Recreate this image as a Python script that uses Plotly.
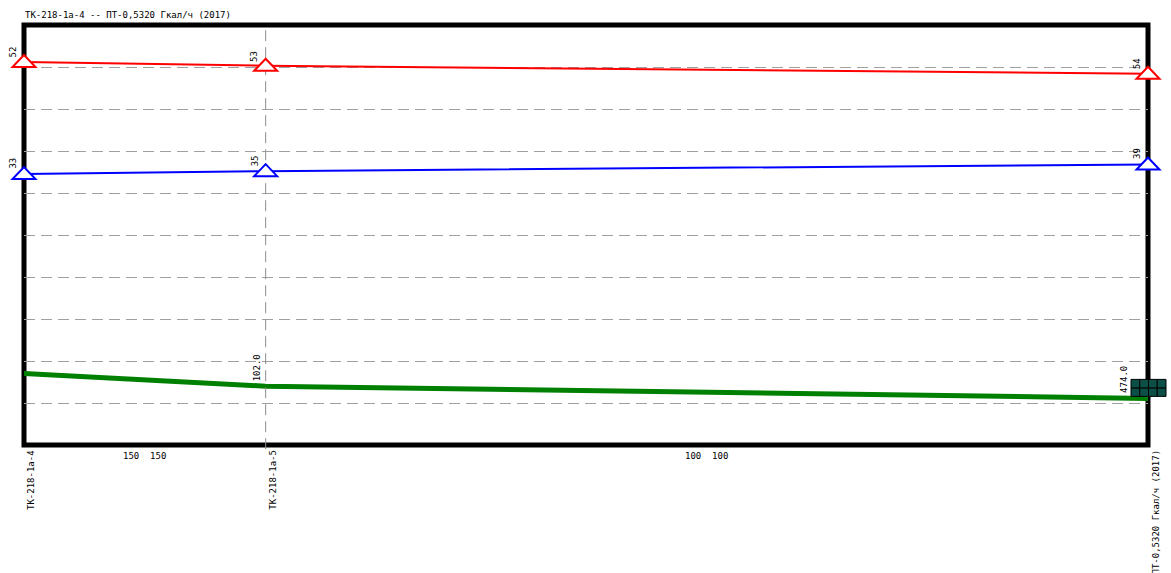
import plotly.graph_objects as go

# Profile along the route: node names and cumulative distance of each node
node_names = ["ТК-218-1а-4", "ТК-218-1а-5", "ПТ-0,5320 Гкал/ч (2017)"]
node_dist = [0, 43, 200]

# Segment labels (supply / return pipe diameters)
segment_labels = ["150  150", "100  100"]

# Supply head, return head and ground profile at each node
supply_head = [9.12, 9.03, 8.84]
return_head = [6.45, 6.52, 6.68]
ground = [1.70, 1.40, 1.11]

supply_tags = ["52", "53", "54"]
return_tags = ["33", "35", "39"]
ground_tags = ["", "102.0", "474.0"]

title_text = "ТК-218-1а-4 -- ПТ-0,5320 Гкал/ч (2017)"

FONT = dict(family="DejaVu Sans Mono", size=9, color="black")

fig = go.Figure()

fig.add_trace(go.Scatter(
    x=node_dist, y=ground, mode="lines",
    line=dict(color="#008000", width=5), cliponaxis=False, hoverinfo="skip"))

for vals, col in ((supply_head, "#ff0000"), (return_head, "#0000ff")):
    fig.add_trace(go.Scatter(
        x=node_dist, y=vals, mode="lines",
        line=dict(color=col, width=2), cliponaxis=False, hoverinfo="skip"))

x_span = node_dist[-1] - node_dist[0]


def paper_x(xv):
    return (xv - node_dist[0]) / x_span


shapes = [
    # Heavy frame around the plotting area (gridlines are drawn over it)
    dict(type="rect", xref="paper", yref="paper", x0=0, x1=1, y0=0, y1=1,
         line=dict(color="black", width=5), layer="below"),
    # Vertical marker line at the intermediate node
    dict(type="line", xref="x", yref="paper", x0=node_dist[1], x1=node_dist[1],
         y0=-0.01, y1=1, line=dict(color="#8c8c8c", width=1, dash="11px,6px")),
]

# Wide open triangles marking the heads at every node
for vals, col in ((supply_head, "#ff0000"), (return_head, "#0000ff")):
    for xv, yv in zip(node_dist, vals):
        shapes.append(dict(
            type="path", xref="paper", yref="y",
            xsizemode="pixel", ysizemode="pixel",
            xanchor=paper_x(xv), yanchor=yv,
            path="M0,7 L11.5,-5 L-11.5,-5 Z",
            fillcolor="white", line=dict(color=col, width=2), layer="above"))

# Heat source symbol at the end node: 4x2 grid of cells
cell_w, cell_h = 8.75, 8.5
for r in range(2):
    for c in range(4):
        shapes.append(dict(
            type="rect", xref="paper", yref="y",
            xsizemode="pixel", ysizemode="pixel",
            xanchor=paper_x(node_dist[-1]), yanchor=ground[-1],
            x0=-17 + c * cell_w, x1=-17 + (c + 1) * cell_w,
            y0=2 + r * cell_h, y1=2 + (r + 1) * cell_h,
            fillcolor="#0b4f46", line=dict(color="black", width=1),
            layer="above"))

annotations = []


# Rotated value tags next to each node
def tag(x, y, text, dx, dy):
    annotations.append(dict(
        x=x, y=y, xref="x", yref="y", text=text, showarrow=False,
        textangle=-90, xanchor="right", yanchor="bottom",
        xshift=dx, yshift=dy, font=FONT))


for xv, yv, t in zip(node_dist, supply_head, supply_tags):
    tag(xv, yv, t, -4, 2)
for xv, yv, t in zip(node_dist, return_head, return_tags):
    tag(xv, yv, t, -4, 3)
for i, (xv, yv, t) in enumerate(zip(node_dist, ground, ground_tags)):
    if t:
        tag(xv, yv, t, -17 if i == len(node_dist) - 1 else -2, 3)

# Node names under the axis
for xv, name in zip(node_dist, node_names):
    annotations.append(dict(
        x=xv, y=0, xref="x", yref="paper", text=name, showarrow=False,
        textangle=-90, xanchor="left", yanchor="top",
        xshift=0, yshift=-3, font=FONT))

# Segment labels at the middle of each span
for i, lab in enumerate(segment_labels):
    annotations.append(dict(
        x=(node_dist[i] + node_dist[i + 1]) / 2, y=0, xref="x", yref="paper",
        text=lab, showarrow=False, xanchor="center", yanchor="top",
        yshift=-4, font=FONT))

annotations.append(dict(
    x=0, y=1, xref="paper", yref="paper", text=title_text, showarrow=False,
    xanchor="left", yanchor="bottom", xshift=-1, yshift=3, font=FONT))

fig.update_layout(
    width=1171, height=573,
    margin=dict(l=24, r=23, t=25, b=128),
    paper_bgcolor="white", plot_bgcolor="white",
    showlegend=False,
    xaxis=dict(range=[node_dist[0], node_dist[-1]], showgrid=False,
               zeroline=False, showticklabels=False, ticks="", fixedrange=True),
    yaxis=dict(range=[0, 10], dtick=1, showgrid=True, gridcolor="#a0a0a0",
               gridwidth=1, griddash="11px,6px", zeroline=False,
               showticklabels=False, ticks="", fixedrange=True),
    annotations=annotations,
    shapes=shapes,
)

fig.write_html("out.html")
